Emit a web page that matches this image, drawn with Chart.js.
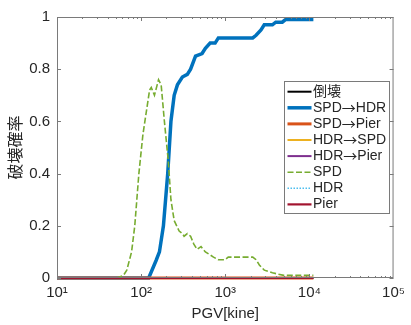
<!DOCTYPE html>
<html>
<head>
<meta charset="utf-8">
<script src="https://cdn.jsdelivr.net/npm/chart.js@4.4.1/dist/chart.umd.min.js"></script>
<style>
    html, body { margin: 0; padding: 0; background: #ffffff; }
    #wrap { position: relative; width: 411px; height: 325px; }
</style>
</head>
<body>
<div id="wrap"><canvas id="fragilityChart" width="411" height="325"></canvas></div>
<script>
const fontFamily = "'Liberation Sans', Arial, 'Noto Sans CJK JP', sans-serif";
const cjkFamily = "'Noto Sans CJK JP', sans-serif";

// PGV [kine] and probability values
const spdHdrPgv = [10, 123, 151, 165, 184, 207, 226, 247, 270, 309, 354, 387, 443, 530, 580, 661, 757, 828, 2120, 2323, 2657, 2906, 3634, 3980, 4758, 5200, 11150];
const spdHdrProb = [0, 0, 0.068, 0.1, 0.2, 0.4, 0.6, 0.7, 0.74, 0.77, 0.78, 0.8, 0.85, 0.86, 0.88, 0.9, 0.9, 0.92, 0.92, 0.93, 0.95, 0.97, 0.97, 0.98, 0.98, 0.99, 0.99];

const spdPgv = [10, 51.5, 61.7, 67.5, 77, 84, 94, 105, 126, 132, 144, 161, 173, 189, 210, 226, 247, 283, 309, 324, 354, 387, 423, 462, 515, 580, 725, 828, 991, 1084, 2120, 2323, 2540, 2906, 3634, 4965, 11150];
const spdProb = [0, 0, 0.01, 0.03, 0.1, 0.2, 0.4, 0.55, 0.72, 0.73, 0.7, 0.76, 0.74, 0.6, 0.45, 0.3, 0.22, 0.18, 0.17, 0.16, 0.17, 0.16, 0.13, 0.11, 0.12, 0.1, 0.08, 0.07, 0.07, 0.08, 0.08, 0.07, 0.05, 0.03, 0.02, 0.01, 0.01];

const zeroPgv = [10, 11150];
const zeroProb = [0, 0];

const xTickValues = [10, 100, 1000, 10000, 100000];
const xTickLabels = ["10¹", "10²", "10³", "10⁴", "10⁵"];
const yTickValues = [0, 0.2, 0.4, 0.6, 0.8, 1];

const seriesLabels = ["倒壊", "SPD→HDR", "SPD→Pier", "HDR→SPD", "HDR→Pier", "SPD", "HDR", "Pier"];

function toPoints(xs, ys) {
    return xs.map((x, i) => ({ x, y: ys[i] }));
}

const seriesStyles = [
    { color: "#000000", width: 2, dash: [] },
    { color: "#0072BD", width: 3.5, dash: [] },
    { color: "#D95319", width: 3, dash: [] },
    { color: "#EDB120", width: 2, dash: [] },
    { color: "#7E2F8E", width: 2, dash: [] },
    { color: "#77AC30", width: 1.6, dash: [6, 2.5] },
    { color: "#4DBEEE", width: 1.6, dash: [1.5, 1.5] },
    { color: "#A2142F", width: 2.2, dash: [] },
];

const seriesData = [
    toPoints(zeroPgv, zeroProb),
    toPoints(spdHdrPgv, spdHdrProb),
    toPoints(zeroPgv, zeroProb),
    toPoints(zeroPgv, zeroProb),
    toPoints(zeroPgv, zeroProb),
    toPoints(spdPgv, spdProb),
    toPoints(zeroPgv, zeroProb),
    toPoints(zeroPgv, zeroProb),
];

const datasets = seriesLabels.map((label, i) => ({
    label,
    data: seriesData[i],
    borderColor: seriesStyles[i].color,
    backgroundColor: seriesStyles[i].color,
    borderWidth: seriesStyles[i].width,
    borderDash: seriesStyles[i].dash,
    pointRadius: 0,
    tension: 0,
    clip: 6,
    order: seriesLabels.length - i,
}));

// box, inward ticks and minor log ticks like the original figure
const frameTicks = {
    id: "frameTicks",
    afterDatasetsDraw(chart) {
        const { ctx, chartArea } = chart;
        const xs = chart.scales.x;
        const ys = chart.scales.y;
        ctx.save();
        ctx.strokeStyle = "#7a7a7a";
        ctx.lineWidth = 1;
        ctx.strokeRect(chartArea.left + 0.5, chartArea.top + 0.5, chartArea.width - 1, chartArea.height - 1);
        ctx.beginPath();
        yTickValues.forEach((v) => {
            const py = Math.round(ys.getPixelForValue(v)) + 0.5;
            ctx.moveTo(chartArea.left, py);
            ctx.lineTo(chartArea.left + 4, py);
            ctx.moveTo(chartArea.right, py);
            ctx.lineTo(chartArea.right - 4, py);
        });
        for (let d = 10; d < 100000; d *= 10) {
            for (let m = 1; m < 10; m++) {
                const px = Math.round(xs.getPixelForValue(d * m)) + 0.5;
                const len = m === 1 ? 4 : 2;
                ctx.moveTo(px, chartArea.top);
                ctx.lineTo(px, chartArea.top + len);
                ctx.moveTo(px, chartArea.bottom);
                ctx.lineTo(px, chartArea.bottom - len);
            }
        }
        ctx.stroke();
        ctx.restore();
    },
};

// legend text: the arrow is drawn with the CJK font, which has the wide arrow of the original
function drawLabel(ctx, text, x, y) {
    const parts = text.split("→");
    let cx = x;
    parts.forEach((part, i) => {
        if (i > 0) {
            ctx.font = `14px ${cjkFamily}`;
            ctx.fillText("→", cx, y);
            cx += ctx.measureText("→").width;
        }
        ctx.font = `14px ${fontFamily}`;
        ctx.fillText(part, cx, y);
        cx += ctx.measureText(part).width;
    });
}

const boxLegend = {
    id: "boxLegend",
    afterDraw(chart) {
        const { ctx } = chart;
        const left = 284.5;
        const top = 81.5;
        const width = 105;
        const height = 132;
        const rowGap = 16.1;
        ctx.save();
        ctx.fillStyle = "#ffffff";
        ctx.fillRect(left, top, width, height);
        ctx.strokeStyle = "#7a7a7a";
        ctx.lineWidth = 1;
        ctx.strokeRect(left, top, width, height);
        ctx.textBaseline = "middle";
        chart.data.datasets.forEach((ds, i) => {
            const y = top + 10.2 + i * rowGap;
            ctx.beginPath();
            ctx.strokeStyle = ds.borderColor;
            ctx.lineWidth = ds.borderWidth;
            ctx.setLineDash(ds.borderDash);
            ctx.moveTo(left + 3, y);
            ctx.lineTo(left + 27, y);
            ctx.stroke();
            ctx.setLineDash([]);
            ctx.fillStyle = "#262626";
            drawLabel(ctx, ds.label, left + 28.5, y);
        });
        ctx.restore();
    },
};

const chart = new Chart(document.getElementById("fragilityChart"), {
    type: "line",
    data: { datasets },
    options: {
        responsive: false,
        animation: false,
        layout: { padding: { top: 17, right: 11, left: 0, bottom: 0 } },
        plugins: {
            legend: { display: false },
            tooltip: { enabled: false },
        },
        scales: {
            x: {
                type: "logarithmic",
                min: 10,
                max: 100000,
                afterBuildTicks(scale) {
                    scale.ticks = xTickValues.map((value) => ({ value }));
                },
                afterFit(scale) {
                    scale.height = 47;
                },
                ticks: {
                    color: "#262626",
                    font: { family: fontFamily, size: 15 },
                    padding: 6,
                    maxRotation: 0,
                    autoSkip: false,
                    callback: (value) => xTickLabels[xTickValues.indexOf(value)] || "",
                },
                grid: { display: false, drawTicks: false },
                border: { display: false },
                title: {
                    display: true,
                    text: "PGV[kine]",
                    color: "#262626",
                    font: { family: fontFamily, size: 15 },
                    padding: { top: 0, bottom: 2 },
                },
            },
            y: {
                min: 0,
                max: 1,
                afterBuildTicks(scale) {
                    scale.ticks = yTickValues.map((value) => ({ value }));
                },
                afterFit(scale) {
                    scale.width = 57;
                },
                ticks: {
                    color: "#262626",
                    font: { family: fontFamily, size: 15 },
                    padding: 7,
                    callback: (value) => String(Math.round(value * 10) / 10),
                },
                grid: { display: false, drawTicks: false },
                border: { display: false },
                title: {
                    display: true,
                    text: "破壊確率",
                    color: "#262626",
                    font: { family: cjkFamily, size: 16 },
                    padding: { top: 5, bottom: 0 },
                },
            },
        },
    },
    plugins: [frameTicks, boxLegend],
});
</script>
</body>
</html>
